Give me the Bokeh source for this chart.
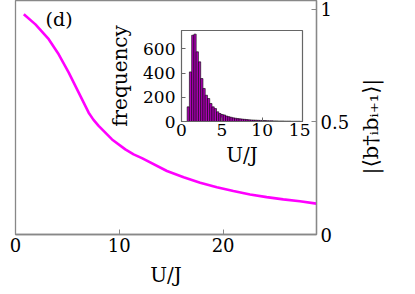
import math
from bokeh.plotting import figure
from bokeh.models import Range1d, FixedTicker, Label
from bokeh.core.properties import value
from bokeh.embed import file_html
from bokeh.resources import INLINE

# main curve data
u_vals = [0.80, 1.92, 3.20, 4.16, 5.13, 6.09, 7.05, 7.5, 8.01, 9.30, 10.58,
          11.38, 12.18, 14.59, 16.2, 17.79, 19.4, 20.99, 22.6, 24.2, 25.8,
          27.4, 29.0]
corr_vals = [0.978, 0.933, 0.867, 0.800, 0.719, 0.630, 0.541, 0.510, 0.482,
             0.422, 0.378, 0.356, 0.339, 0.282, 0.254, 0.230, 0.210, 0.193,
             0.178, 0.166, 0.156, 0.148, 0.137]
main_xticks = [0, 10, 20]
main_yticks = [0, 0.5, 1]
main_ylabels = ["0", "0.5", "1"]
main_ylabel_text = "|⟨b†ᵢbᵢ₊₁⟩|"

# inset histogram data
bin_start = 0.7
bin_width = 0.28
counts = [121, 410, 713, 722, 576, 493, 355, 273, 217, 190, 149, 121, 107, 80,
          66, 58, 54, 45, 40, 35, 30, 27, 24, 22, 20, 18, 16, 14, 13, 12, 11,
          10, 9, 8, 8, 7, 6, 6, 5, 5, 4, 4, 4, 3, 3, 3, 2, 2, 2, 2, 1]
inset_xticks = [0, 5, 10, 15]
inset_yticks = [0, 200, 400, 600]

FONT = "DejaVu Serif"
GRAY = "#888888"

p = figure(frame_width=301, frame_height=234, x_range=Range1d(0, 29),
           y_range=Range1d(0, 1.039), y_axis_location="right",
           output_backend="svg", toolbar_location=None,
           min_border_left=15, min_border_top=0, min_border_right=78,
           min_border_bottom=5)
p.grid.visible = False
p.outline_line_color = GRAY
p.outline_line_width = 1.3
p.background_fill_color = "white"

p.line(u_vals, corr_vals, line_color="#ff00ff", line_width=2.6)

for ax in (p.xaxis[0], p.yaxis[0]):
    ax.axis_line_color = GRAY
    ax.axis_line_width = 1.3
    ax.major_tick_line_color = GRAY
    ax.major_tick_in = 5
    ax.major_tick_out = 0
    ax.minor_tick_line_color = None
    ax.major_label_text_font = FONT
    ax.major_label_text_font_size = "18px"
    ax.major_label_text_color = "black"
    ax.axis_label_text_font = FONT
    ax.axis_label_text_font_style = "normal"
    ax.axis_label_text_font_size = "20px"
    ax.axis_label_text_color = "black"

p.xaxis[0].ticker = FixedTicker(ticks=main_xticks)
p.xaxis[0].axis_label = "U/J"
p.xaxis[0].major_label_standoff = 3
p.xaxis[0].axis_label_standoff = 8
p.yaxis[0].ticker = FixedTicker(ticks=main_yticks)
p.yaxis[0].major_label_overrides = {t: l for t, l in zip(main_yticks, main_ylabels)}
p.yaxis[0].major_label_standoff = 4

p.add_layout(Label(x=2.9, y=1.005, text="(d)", text_font=FONT,
                   text_color="black", text_font_size="19px",
                   text_baseline="top"))

# rotated right-hand axis title (reads bottom to top)
t = figure(frame_width=30, frame_height=110, x_range=Range1d(-1, 1),
           y_range=Range1d(-1, 1), x_axis_type=None, y_axis_type=None,
           output_backend="svg", toolbar_location=None, min_border=0,
           styles={"position": "absolute", "left": "355px", "top": "71px"})
t.grid.visible = False
t.outline_line_color = None
t.background_fill_alpha = 0
t.border_fill_alpha = 0
t.text(x=[0], y=[0], text=[main_ylabel_text], angle=math.pi / 2,
       text_align="center", text_baseline="middle", text_font=value(FONT),
       text_font_size="21px", text_color="black")

# inset
left_edges = [bin_start + i * bin_width for i in range(len(counts))]
right_edges = [e + bin_width for e in left_edges]

q = figure(frame_width=121, frame_height=91, x_range=Range1d(0, 15),
           y_range=Range1d(0, 752), output_backend="svg",
           toolbar_location=None, min_border_left=80, min_border_top=5,
           min_border_right=8, min_border_bottom=5,
           styles={"position": "absolute", "left": "101px", "top": "25px"})
q.grid.visible = False
q.outline_line_color = "#666666"
q.outline_line_width = 1.2
q.background_fill_alpha = 0
q.border_fill_alpha = 0
q.quad(left=left_edges, right=right_edges, bottom=0, top=counts,
       fill_color="#b000b8", line_color="black", line_width=0.6)
for ax in (q.xaxis[0], q.yaxis[0]):
    ax.axis_line_color = "#666666"
    ax.major_tick_line_color = "#666666"
    ax.major_tick_in = 4
    ax.major_tick_out = 0
    ax.minor_tick_line_color = None
    ax.major_label_text_font = FONT
    ax.major_label_text_font_size = "17px"
    ax.major_label_text_color = "black"
    ax.axis_label_text_font = FONT
    ax.axis_label_text_font_style = "normal"
    ax.axis_label_text_font_size = "20px"
    ax.axis_label_text_color = "black"
q.xaxis[0].ticker = FixedTicker(ticks=inset_xticks)
q.yaxis[0].ticker = FixedTicker(ticks=inset_yticks)
q.xaxis[0].axis_label = "U/J"
q.yaxis[0].axis_label = "frequency"
q.xaxis[0].major_label_standoff = 2
q.yaxis[0].major_label_standoff = 6
q.xaxis[0].axis_label_standoff = 4
q.yaxis[0].axis_label_standoff = 8

open("out.html", "w").write(file_html([p, q, t], INLINE))
